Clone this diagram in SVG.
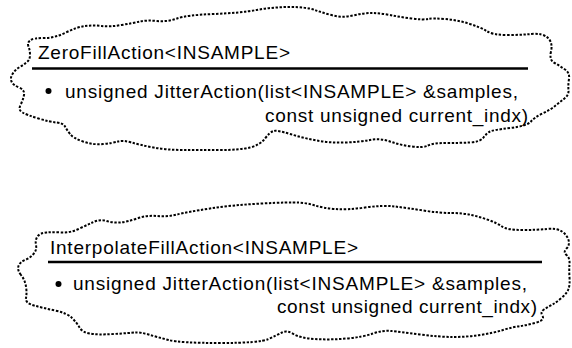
<svg xmlns="http://www.w3.org/2000/svg" width="572" height="348" viewBox="0 0 572 348">
  <style>
    .cloud { fill: none; stroke: #000; stroke-width: 2; stroke-dasharray: 2.4 1.6; stroke-linejoin: round; }
    .sep { stroke: #000; stroke-width: 2.5; }
    .txt { font-family: "Liberation Sans", Arial, sans-serif; font-size: 19px; fill: #000; }
  </style>
  <rect width="572" height="348" fill="#fff"/>

  <g id="zero-fill-action">
    <path class="cloud" d="M28.5,46.5 Q27,43 30,40.5 Q33,38 44,38 Q55,38 66,32.5 Q77,27 85,26 Q93,25 101.5,26 Q110,27 121.5,25 Q133,23 140,21.5 Q147,20 157,21 Q167,22 177,18.5 Q187,15 213.5,14 Q240,13 256.5,10 Q273,7 290,7 Q307,7 315,10 Q323,13 333,15.5 Q343,18 353,15.5 Q363,13 371.5,13 Q380,13 390,15 Q400,17 411.5,18.5 Q423,20 428,19 Q433,18 445,19 Q457,20 468.5,23.5 Q480,27 486.5,31 Q493,35 506.5,35 Q520,35 531.5,34 Q543,33 548,38 Q553,43 551,51.5 Q549,60 554.5,63 Q560,66 565,69.5 Q570,73 569,79 Q568,85 568.5,90 Q569,95 564.5,98.5 Q560,102 555,106 Q550,110 542.5,113.5 Q535,117 531,121.5 Q527,126 510,128 Q493,130 490,131.5 Q487,133 483.5,137.5 Q480,142 470,142.5 Q460,143 446.5,143 Q433,143 428,145.5 Q423,148 411.5,146.5 Q400,145 390,141.5 Q380,138 370,140 Q360,142 345,142.5 Q330,143 316.5,140.5 Q303,138 290,134 Q277,130 273.5,131 Q270,132 265,138.5 Q260,145 250,147.5 Q240,150 220,150 Q200,150 183.5,150 Q167,150 153.5,147.5 Q140,145 131.5,142.5 Q123,140 118,141.5 Q113,143 103,144 Q93,145 83,141.5 Q73,138 70,134 Q67,130 65,126.5 Q63,123 56.5,122.5 Q50,122 38.5,118.5 Q27,115 22.5,112.5 Q18,110 20.5,105 Q23,100 24,95 Q25,90 19,87.5 Q13,85 11.5,81.5 Q10,78 12.5,74 Q15,70 19,67.5 Q23,65 26.5,62.5 Q30,60 30,55 Q30,50 28.5,46.5 Z"/>
    <text class="txt" x="38" y="59" textLength="252" lengthAdjust="spacing">ZeroFillAction&lt;INSAMPLE&gt;</text>
    <line class="sep" x1="32" y1="68.5" x2="528" y2="68.5"/>
    <circle cx="48.5" cy="91" r="3"/>
    <text class="txt" x="65" y="98" textLength="453" lengthAdjust="spacing">unsigned JitterAction(list&lt;INSAMPLE&gt; &amp;samples,</text>
    <text class="txt" x="265" y="122" textLength="263" lengthAdjust="spacing">const unsigned current_indx)</text>
  </g>

  <g id="interpolate-fill-action">
    <path class="cloud" d="M21,275 Q17,270 18.5,266 Q20,262 25,260 Q30,258 33.5,254 Q37,250 36,245 Q35,240 37.5,236.5 Q40,233 46.5,232.5 Q53,232 61.5,232.5 Q70,233 78.5,229 Q87,225 93.5,222 Q100,219 106.5,221 Q113,223 120,222.5 Q127,222 137,218.5 Q147,215 157,216 Q167,217 177,214.5 Q187,212 210,208.5 Q233,205 261.5,203.5 Q290,202 298.5,202.5 Q307,203 315,205.5 Q323,208 335,209 Q347,210 365,207.5 Q383,205 395,206.5 Q407,208 423.5,210.5 Q440,213 451.5,213 Q463,213 471.5,215 Q480,217 488.5,220 Q497,223 502,226.5 Q507,230 522,230 Q537,230 547,229 Q557,228 562,231.5 Q567,235 568.5,240 Q570,245 566.5,248.5 Q563,252 566.5,255 Q570,258 569.5,264 Q569,270 569.5,277.5 Q570,285 568.5,289 Q567,293 562,297.5 Q557,302 552.5,304.5 Q548,307 544,309.5 Q540,312 542.5,316 Q545,320 536.5,322.5 Q528,325 520.5,326 Q513,327 503,330 Q493,333 480,335 Q467,337 453.5,337 Q440,337 420,334.5 Q400,332 391.5,331 Q383,330 373,333.5 Q363,337 346.5,338.5 Q330,340 315,339 Q300,338 293.5,334 Q287,330 282,332.5 Q277,335 268.5,339 Q260,343 220,343 Q180,343 168.5,340 Q157,337 148.5,334.5 Q140,332 135,332.5 Q130,333 113.5,334 Q97,335 89.5,333.5 Q82,332 79.5,327.5 Q77,323 72,318 Q67,313 55,310.5 Q43,308 34,305.5 Q25,303 26,298 Q27,293 26,286.5 Q25,280 21,275 Z"/>
    <text class="txt" x="50" y="253.5" textLength="308" lengthAdjust="spacing">InterpolateFillAction&lt;INSAMPLE&gt;</text>
    <line class="sep" x1="48" y1="262" x2="542" y2="262"/>
    <circle cx="58.5" cy="284" r="3"/>
    <text class="txt" x="73" y="290" textLength="454" lengthAdjust="spacing">unsigned JitterAction(list&lt;INSAMPLE&gt; &amp;samples,</text>
    <text class="txt" x="277" y="313" textLength="260" lengthAdjust="spacing">const unsigned current_indx)</text>
  </g>
</svg>
